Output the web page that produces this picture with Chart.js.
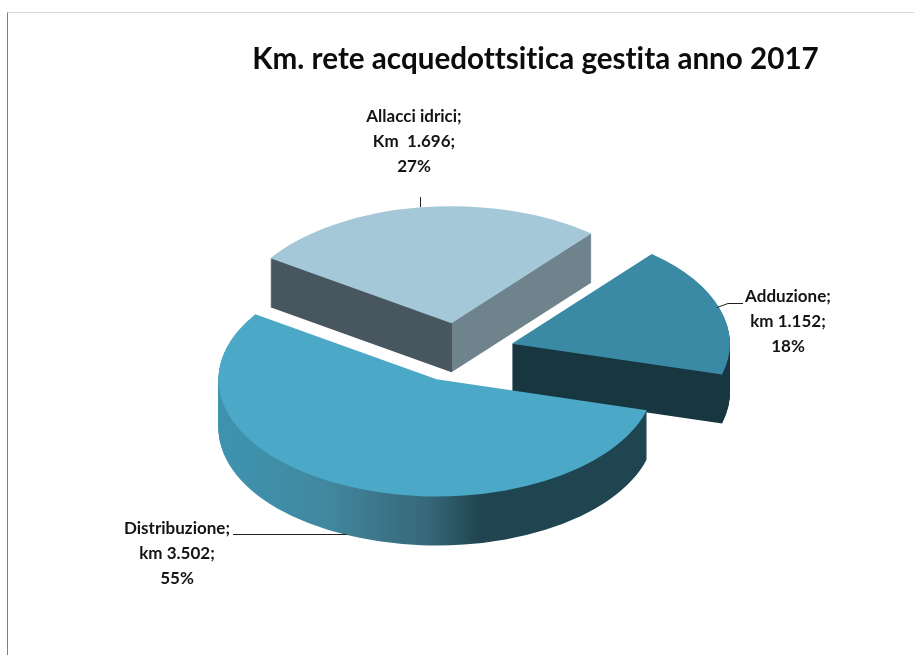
<!doctype html>
<html>

<head>
  <script src="https://cdn.jsdelivr.net/npm/chart.js@4"></script>
  <style>
    html, body { margin: 0; background: #fff; }
    #frame { position: absolute; left: 7px; top: 12px; right: 0; bottom: 0; border-left: 1px solid #7f7f7f; border-top: 1px solid #d8d8d8; }
    canvas { position: absolute; left: 0; top: 0; }
  </style>
</head>

<body>
  <div id="frame"></div>
  <canvas id="canvas" width="914" height="655"></canvas>
  <script>
    const titleText = 'Km. rete acquedottsitica gestita anno 2017';
    const categories = ['Allacci idrici', 'Adduzione', 'Distribuzione'];
    const km = [1696, 1152, 3502];
    const kmLabels = ['Km  1.696;', 'km 1.152;', 'km 3.502;'];
    const percentLabels = ['27%', '18%', '55%'];
    const topColors = ['#a5c8d9', '#3a8aa6', '#4ba8c6'];
    // wall shading, left to right across each slice
    const wallStops = [
      [[0, '#47565f'], [0.5, '#47565f'], [0.5, '#6e838c'], [1, '#6e838c']],
      [[0, '#17363f'], [1, '#17363f']],
      [[0, '#3e93b0'], [0.25, '#41889f'], [0.415, '#3a6f82'], [0.48, '#35687a'], [0.6, '#204550'], [1, '#1f4550']]
    ];

    // 3d look of the pie
    const pie = {x: 459.3, y: 352.5, tilt: 0.537, radius: 218, explode: 55, depth: 49};
    const labelFont = 'bold 17px Lato';
    const labelBoxes = [
      {x: 414, y: 117, line: [[420.5, 197], [420.5, 207]]},
      {x: 788, y: 297, line: [[717, 307.5], [728, 303.5], [743, 303.5]]},
      {x: 177, y: 529, line: [[233, 534.5], [347, 534.5]]}
    ];

    function drawSlice(ctx, arc, offsetY, fill) {
      const mid = (arc.startAngle + arc.endAngle) / 2;
      const copy = Object.create(arc);
      copy.options = Object.assign({}, arc.options, {backgroundColor: fill, borderWidth: 0});
      ctx.save();
      ctx.translate(pie.x + Math.cos(mid) * pie.explode, pie.y + Math.sin(mid) * pie.explode * pie.tilt + offsetY);
      ctx.scale(1, pie.tilt);
      ctx.translate(-arc.x, -arc.y);
      copy.draw(ctx);
      ctx.restore();
    }

    const pie3d = {
      id: 'pie3d',
      beforeDraw(chart) {
        // lato would otherwise join tt and ti in the title
        chart.ctx.letterSpacing = '0.01px';
      },
      beforeDatasetsDraw(chart) {
        const ctx = chart.ctx;
        chart.getDatasetMeta(0).data.forEach((arc, i) => {
          const wall = ctx.createLinearGradient(arc.x - pie.radius, 0, arc.x + pie.radius, 0);
          wallStops[i].forEach((s) => wall.addColorStop(s[0], s[1]));
          for (let d = pie.depth; d > 0; d--) {
            drawSlice(ctx, arc, d, wall);
          }
          drawSlice(ctx, arc, 0, topColors[i]);
        });
        return false;
      },
      afterDraw(chart) {
        const ctx = chart.ctx;
        ctx.save();
        ctx.fillStyle = '#141414';
        ctx.strokeStyle = '#222';
        ctx.font = labelFont;
        ctx.textAlign = 'center';
        ctx.textBaseline = 'middle';
        labelBoxes.forEach((box, i) => {
          ctx.fillText(categories[i] + ';', box.x, box.y);
          ctx.fillText(kmLabels[i], box.x, box.y + 25);
          ctx.fillText(percentLabels[i], box.x, box.y + 50);
          ctx.beginPath();
          box.line.forEach((p, j) => (j ? ctx.lineTo(p[0], p[1]) : ctx.moveTo(p[0], p[1])));
          ctx.lineWidth = 1;
          ctx.stroke();
        });
        ctx.restore();
      }
    };

    new Chart(document.getElementById('canvas').getContext('2d'), {
      type: 'pie',
      data: {
        labels: categories,
        datasets: [{
          data: km,
          backgroundColor: topColors,
          borderWidth: 0
        }]
      },
      options: {
        responsive: false,
        animation: false,
        rotation: 303.8,
        radius: pie.radius,
        layout: {padding: {left: 157, top: 42}},
        plugins: {
          legend: {display: false},
          tooltip: {enabled: false},
          title: {
            display: true,
            text: titleText,
            color: '#0c0c0c',
            font: {family: 'Lato', size: 29.6, weight: 'bold'},
            padding: 0
          }
        }
      },
      plugins: [pie3d]
    });
  </script>
</body>

</html>
